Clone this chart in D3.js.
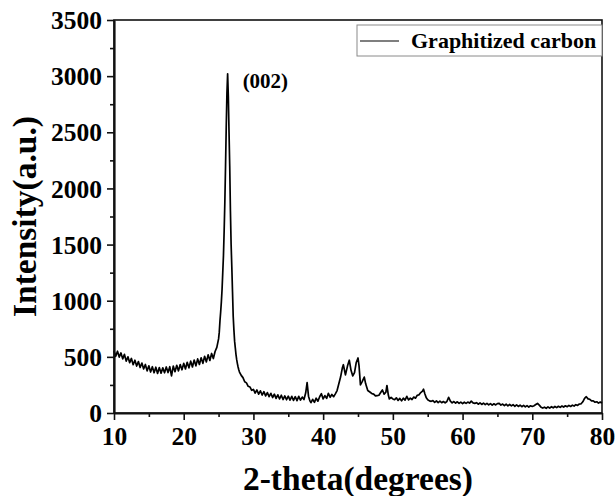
<!DOCTYPE html>
<html>
<head>
<meta charset="utf-8">
<script src="https://cdn.jsdelivr.net/npm/d3@7"></script>
<style>
  body { margin: 0; background: #fff; }
  svg text { font-family: "Liberation Serif", "Times New Roman", serif; font-weight: bold; }
</style>
</head>
<body>
<svg id="chart" width="616" height="496"></svg>
<script>
// XRD scan of graphitized carbon: [2-theta, intensity]
const amorphousHump = [
  [10.00, 552], [10.25, 505], [10.50, 550], [10.75, 498], [11.00, 535], [11.25, 482],
  [11.50, 522], [11.75, 462], [12.00, 500], [12.25, 448], [12.50, 486], [12.75, 430],
  [13.00, 470], [13.25, 418], [13.50, 458], [13.75, 405], [14.00, 445], [14.25, 392],
  [14.50, 432], [14.75, 375], [15.00, 420], [15.25, 365], [15.50, 412], [15.75, 358],
  [16.00, 408], [16.25, 352], [16.50, 405], [16.75, 355], [17.00, 402], [17.25, 358],
  [17.50, 410], [17.75, 360], [18.00, 412], [18.25, 330], [18.50, 418], [18.75, 368],
  [19.00, 425], [19.25, 375], [19.50, 432], [19.75, 385], [20.00, 442], [20.25, 392],
  [20.50, 452], [20.75, 402], [21.00, 462], [21.25, 410], [21.50, 472], [21.75, 420],
  [22.00, 482], [22.25, 432], [22.50, 492], [22.75, 442], [23.00, 505], [23.25, 455],
  [23.50, 518], [23.75, 468], [24.00, 530], [24.25, 485], [24.50, 548], [24.75, 585]
];

const peak002 = [
  [25.0, 660], [25.1, 720], [25.2, 820], [25.3, 900], [25.4, 990], [25.5, 1100],
  [25.6, 1250], [25.7, 1400], [25.8, 1620], [25.9, 1880], [26.0, 2200], [26.1, 2550],
  [26.2, 2850], [26.3, 3020], [26.4, 2820], [26.5, 2500], [26.6, 2200], [26.7, 1800],
  [26.8, 1500], [26.9, 1300], [27.0, 1080], [27.1, 860], [27.2, 740], [27.3, 640],
  [27.4, 580], [27.5, 520], [27.6, 475], [27.7, 440], [27.8, 410], [27.9, 385]
];

const midRange = [
  [28.00, 365], [28.25, 335], [28.50, 315], [28.75, 278], [29.00, 268], [29.25, 238],
  [29.50, 232], [29.75, 202], [30.00, 210], [30.25, 178], [30.50, 205], [30.75, 168],
  [31.00, 198], [31.25, 160], [31.50, 190], [31.75, 152], [32.00, 182], [32.25, 145],
  [32.50, 175], [32.75, 138], [33.00, 168], [33.25, 130], [33.50, 162], [33.75, 125],
  [34.00, 158], [34.25, 120], [34.50, 152], [34.75, 118], [35.00, 150], [35.25, 115],
  [35.50, 148], [35.75, 112], [36.00, 145], [36.25, 110], [36.50, 148], [36.75, 115],
  [37.00, 142], [37.25, 120], [37.50, 180], [37.70, 270], [37.90, 150], [38.10, 108],
  [38.25, 92], [38.50, 122], [38.75, 95], [39.00, 132], [39.25, 105], [39.50, 145],
  [39.75, 172], [40.00, 125], [40.25, 155], [40.50, 130], [40.75, 175], [41.00, 140],
  [41.25, 165], [41.50, 145], [41.75, 170], [42.00, 200], [42.25, 260], [42.50, 320],
  [42.75, 400], [42.90, 430], [43.20, 340], [43.50, 420], [43.75, 470], [44.00, 380],
  [44.25, 330], [44.50, 360], [44.75, 450], [45.00, 490], [45.15, 420], [45.35, 250],
  [45.60, 280], [45.90, 320], [46.10, 260], [46.40, 200], [46.75, 185], [47.00, 172],
  [47.25, 168], [47.50, 152], [47.75, 155], [48.00, 158], [48.25, 182], [48.50, 205],
  [48.75, 168], [49.00, 185], [49.15, 245], [49.35, 160], [49.50, 125], [49.75, 138]
];

const highAngle = [
  [50.00, 125], [50.25, 118], [50.50, 135], [50.75, 112], [51.00, 130], [51.25, 108],
  [51.50, 132], [51.75, 115], [52.00, 148], [52.25, 116], [52.50, 132], [52.75, 120],
  [53.00, 142], [53.25, 132], [53.50, 158], [53.75, 162], [54.00, 182], [54.25, 195],
  [54.40, 212], [54.60, 170], [54.80, 135], [55.00, 118], [55.25, 108], [55.50, 104],
  [55.75, 110], [56.00, 95], [56.25, 108], [56.50, 92], [56.75, 105], [57.00, 92],
  [57.25, 102], [57.50, 90], [57.75, 102], [58.00, 140], [58.25, 105], [58.50, 90],
  [58.75, 102], [59.00, 88], [59.25, 100], [59.50, 86], [59.75, 97], [60.00, 84],
  [60.25, 96], [60.50, 86], [60.75, 97], [61.00, 88], [61.25, 106], [61.50, 90],
  [61.75, 86], [62.00, 92], [62.25, 78], [62.50, 90], [62.75, 76], [63.00, 88],
  [63.25, 74], [63.50, 86], [63.75, 72], [64.00, 84], [64.25, 70], [64.50, 82],
  [64.75, 72], [65.00, 84], [65.25, 86], [65.50, 70], [65.75, 80], [66.00, 66],
  [66.25, 78], [66.50, 64], [66.75, 76], [67.00, 63], [67.25, 74], [67.50, 60],
  [67.75, 72], [68.00, 58], [68.25, 70], [68.50, 56], [68.75, 68], [69.00, 54],
  [69.25, 66], [69.50, 53], [69.75, 64], [70.00, 58], [70.25, 65], [70.50, 75],
  [70.75, 85], [71.00, 70], [71.25, 52], [71.50, 44], [71.75, 52], [72.00, 42],
  [72.25, 54], [72.50, 44], [72.75, 56], [73.00, 46], [73.25, 58], [73.50, 48],
  [73.75, 60], [74.00, 50], [74.25, 62], [74.50, 53], [74.75, 64], [75.00, 56],
  [75.25, 68], [75.50, 58], [75.75, 70], [76.00, 62], [76.25, 74], [76.50, 68],
  [76.75, 80], [77.00, 82], [77.25, 100], [77.50, 130], [77.75, 145], [78.00, 126],
  [78.25, 122], [78.50, 108], [78.75, 108], [79.00, 96], [79.25, 100], [79.50, 88],
  [79.75, 97], [80.00, 90]
];

const xTicks = [10, 20, 30, 40, 50, 60, 70, 80];
const yTicks = [0, 500, 1000, 1500, 2000, 2500, 3000, 3500];
const seriesName = "Graphitized carbon";
const peakLabel = { x: 26.3, y: 3020, text: "(002)" };

const scan = [...amorphousHump, ...peak002, ...midRange, ...highAngle];

const margin = { top: 20, right: 14, bottom: 83, left: 114 };
const width = 616, height = 496;
const svg = d3.select("#chart");

const x = d3.scaleLinear().domain([10, 80]).range([margin.left, width - margin.right]);
const y = d3.scaleLinear().domain([0, 3500]).range([height - margin.bottom, margin.top]);

// frame (top + right)
svg.append("rect")
  .attr("x", x(10)).attr("y", y(3500))
  .attr("width", x(80) - x(10)).attr("height", y(0) - y(3500))
  .attr("fill", "none").attr("stroke", "#111").attr("stroke-width", 1.6);

// the pattern
const line = d3.line().x(d => x(d[0])).y(d => y(d[1]));
svg.append("path")
  .datum(scan)
  .attr("fill", "none")
  .attr("stroke", "#000")
  .attr("stroke-width", 1.7)
  .attr("stroke-linejoin", "round")
  .attr("d", line);

// minor ticks
const xMinor = d3.range(15, 80, 10);
const yMinor = d3.range(250, 3500, 500);
svg.append("g")
  .attr("transform", `translate(0,${y(0)})`)
  .call(d3.axisBottom(x).tickValues(xMinor).tickSize(4).tickFormat(""))
  .call(g => g.select(".domain").remove())
  .selectAll("line").attr("stroke", "#111").attr("stroke-width", 1.6);
svg.append("g")
  .attr("transform", `translate(${x(10)},0)`)
  .call(d3.axisLeft(y).tickValues(yMinor).tickSize(4).tickFormat(""))
  .call(g => g.select(".domain").remove())
  .selectAll("line").attr("stroke", "#111").attr("stroke-width", 1.6);

// major axes
const xAxis = svg.append("g")
  .attr("transform", `translate(0,${y(0)})`)
  .call(d3.axisBottom(x).tickValues(xTicks).tickFormat(d3.format("d"))
    .tickSize(7).tickPadding(5).tickSizeOuter(0));
const yAxis = svg.append("g")
  .attr("transform", `translate(${x(10)},0)`)
  .call(d3.axisLeft(y).tickValues(yTicks).tickFormat(d3.format("d"))
    .tickSize(7).tickPadding(5).tickSizeOuter(0));

[xAxis, yAxis].forEach(g => {
  g.select(".domain").attr("stroke", "#111").attr("stroke-width", 2.2);
  g.selectAll(".tick line").attr("stroke", "#111").attr("stroke-width", 1.6);
  g.selectAll(".tick text")
    .attr("fill", "#000")
    .style("font-size", "25.5px")
    .style("font-family", '"Liberation Serif", "Times New Roman", serif')
    .style("font-weight", "bold");
});
xAxis.selectAll(".tick text").attr("dy", "0.78em");
yAxis.selectAll(".tick text").attr("dy", "0.34em");

// axis titles
svg.append("text")
  .attr("x", (x(10) + x(80)) / 2)
  .attr("y", 490)
  .attr("text-anchor", "middle")
  .style("font-size", "33.5px")
  .text("2-theta(degrees)");

svg.append("text")
  .attr("transform", `translate(36,${(y(0) + y(3500)) / 2}) rotate(-90)`)
  .attr("text-anchor", "middle")
  .style("font-size", "33.5px")
  .text("Intensity(a.u.)");

// peak annotation
svg.append("text")
  .attr("x", x(peakLabel.x) + 15)
  .attr("y", 88)
  .style("font-size", "21px")
  .text(peakLabel.text);

// legend
const legend = svg.append("g");
legend.append("rect")
  .attr("x", 357).attr("y", 25)
  .attr("width", x(80) - 357).attr("height", 31)
  .attr("fill", "#fff").attr("stroke", "#8a8a8a").attr("stroke-width", 1);
legend.append("line")
  .attr("x1", 360).attr("x2", 399).attr("y1", 41).attr("y2", 41)
  .attr("stroke", "#000").attr("stroke-width", 1.2);
legend.append("text")
  .attr("x", 411).attr("y", 48)
  .style("font-size", "22px")
  .text(seriesName);
</script>
</body>
</html>
